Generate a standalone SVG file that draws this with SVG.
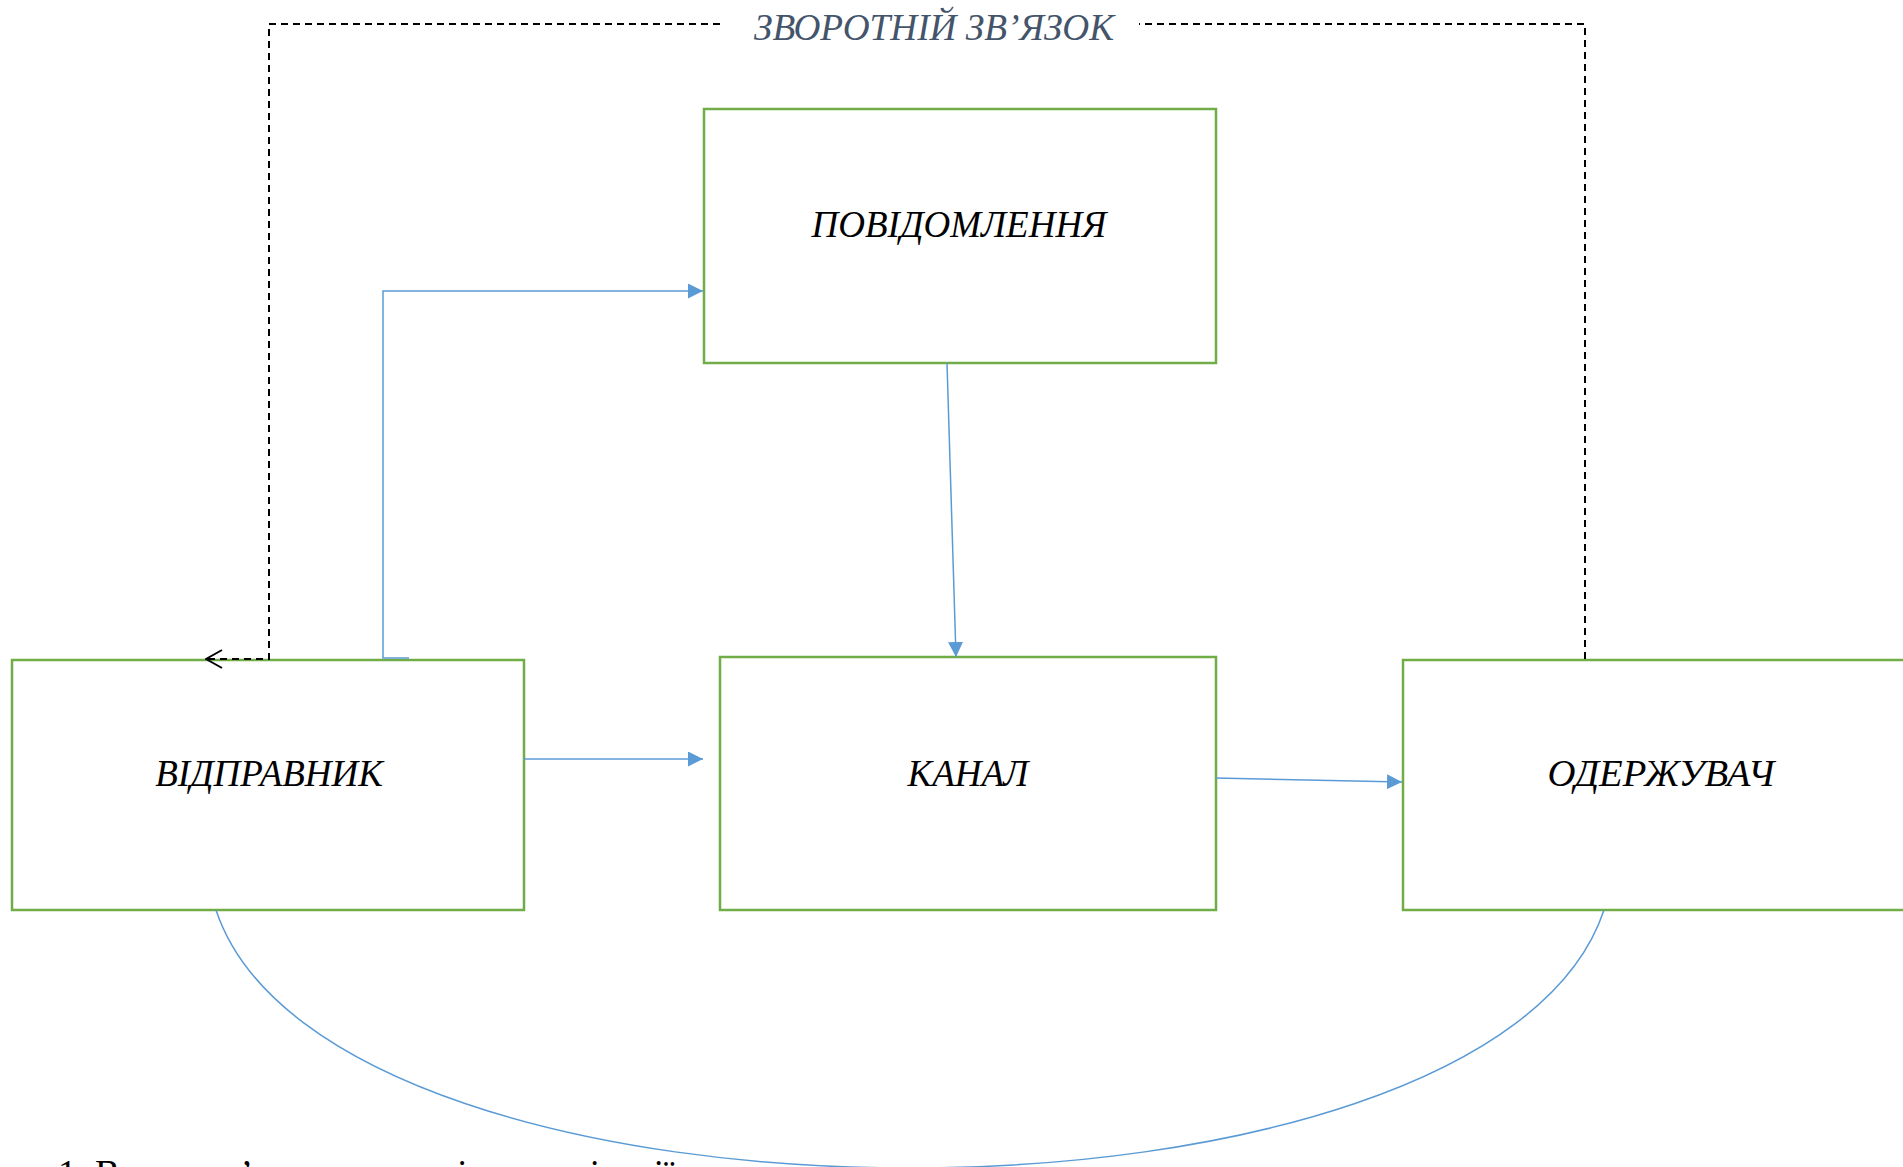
<svg xmlns="http://www.w3.org/2000/svg" width="1903" height="1167" viewBox="0 0 1903 1167">
<style>
.box{fill:#fff;stroke:#70AD47;stroke-width:2.5}
.lbl{font-family:"Liberation Serif","Times New Roman",serif;font-style:italic;font-size:37px;fill:#000;text-anchor:middle}
.conn{fill:none;stroke:#5B9BD5;stroke-width:1.5}
.dash{fill:none;stroke:#000;stroke-width:2;stroke-dasharray:7 5}
</style>
<defs>
<marker id="tri" viewBox="0 0 10 10" refX="10" refY="5" markerWidth="15" markerHeight="15" markerUnits="userSpaceOnUse" orient="auto">
<path d="M0,0 L10,5 L0,10 z" fill="#5B9BD5"/>
</marker>
<marker id="open" viewBox="0 0 20 20" refX="19" refY="10" markerWidth="20" markerHeight="20" markerUnits="userSpaceOnUse" orient="auto">
<path d="M3,1 L19,10 L3,19" fill="none" stroke="#000" stroke-width="2"/>
</marker>
</defs>
<rect width="1903" height="1167" fill="#fff"/>
<text x="934" y="40" font-family="'Liberation Serif','Times New Roman',serif" font-style="italic" font-size="38" fill="#44546A" text-anchor="middle" textLength="360" lengthAdjust="spacingAndGlyphs">ЗВОРОТНІЙ ЗВ’ЯЗОК</text>
<g id="message">
<rect class="box" x="704" y="109" width="512" height="254"/>
<text class="lbl" x="959" y="237">ПОВІДОМЛЕННЯ</text>
</g>
<g id="sender">
<rect class="box" x="12" y="660" width="512" height="250"/>
<text class="lbl" x="269" y="786">ВІДПРАВНИК</text>
</g>
<g id="channel">
<rect class="box" x="720" y="657" width="496" height="253"/>
<text class="lbl" x="968" y="786">КАНАЛ</text>
</g>
<g id="receiver">
<rect class="box" x="1403" y="660" width="530" height="250"/>
<text class="lbl" x="1661" y="786" textLength="227" lengthAdjust="spacingAndGlyphs">ОДЕРЖУВАЧ</text>
</g>
<g id="connectors">
<path class="dash" d="M1585,659 V24 H1139"/>
<path class="dash" d="M720,24 H269 V659 H206" marker-end="url(#open)"/>
<path class="conn" d="M409,658 H383 V291 H703" marker-end="url(#tri)"/>
<path class="conn" d="M524,759 H703" marker-end="url(#tri)"/>
<path class="conn" d="M947,363 L956,657" marker-end="url(#tri)"/>
<path class="conn" d="M1216,778 L1402,782" marker-end="url(#tri)"/>
<path class="conn" d="M216,910 C330,1254 1490,1254 1604,910"/>
</g>
<text x="58" y="1186" font-family="'Liberation Serif','Times New Roman',serif" font-size="37" fill="#000">1. Взаємозв’язок елементів комунікації</text>
</svg>
